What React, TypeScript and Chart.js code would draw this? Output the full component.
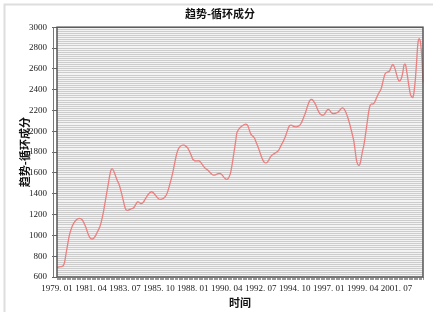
import React, { useEffect, useRef } from 'react';
import { Chart, registerables } from 'chart.js';

Chart.register(...registerables);

const chartTitle = '趋势-循环成分';
const xTitle = '时间';
const yTitle = '趋势-循环成分';

const startYear = 1979;
const tickLabels = ['1979. 01', '1981. 04', '1983. 07', '1985. 10', '1988. 01', '1990. 04', '1992. 07', '1994. 10', '1997. 01', '1999. 04', '2001. 07'];
const yMajorTicks = [600, 800, 1000, 1200, 1400, 1600, 1800, 2000, 2200, 2400, 2600, 2800, 3000];

const y1979 = [690, 695, 698, 700, 702, 710, 740, 810, 880, 950, 1010, 1050];
const y1980 = [1085, 1110, 1130, 1145, 1155, 1160, 1163, 1160, 1150, 1130, 1105, 1075];
const y1981 = [1040, 1005, 980, 968, 965, 970, 985, 1005, 1030, 1055, 1080, 1120];
const y1982 = [1170, 1230, 1300, 1370, 1440, 1510, 1580, 1630, 1640, 1620, 1590, 1555];
const y1983 = [1525, 1500, 1465, 1420, 1370, 1320, 1270, 1245, 1240, 1245, 1250, 1255];
const y1984 = [1258, 1265, 1285, 1305, 1322, 1320, 1310, 1306, 1310, 1325, 1345, 1365];
const y1985 = [1385, 1400, 1412, 1419, 1415, 1405, 1390, 1375, 1360, 1350, 1346, 1347];
const y1986 = [1352, 1360, 1371, 1390, 1420, 1460, 1505, 1550, 1600, 1660, 1720, 1775];
const y1987 = [1815, 1840, 1855, 1863, 1867, 1866, 1860, 1852, 1838, 1815, 1790, 1760];
const y1988 = [1730, 1720, 1715, 1715, 1717, 1715, 1705, 1690, 1672, 1655, 1643, 1635];
const y1989 = [1625, 1612, 1600, 1588, 1580, 1578, 1582, 1588, 1594, 1596, 1594, 1585];
const y1990 = [1570, 1555, 1542, 1538, 1545, 1565, 1600, 1665, 1740, 1820, 1900, 1985];
const y1991 = [2010, 2028, 2040, 2050, 2058, 2065, 2069, 2065, 2045, 2010, 1975, 1960];
const y1992 = [1950, 1935, 1905, 1875, 1845, 1810, 1775, 1742, 1715, 1700, 1697, 1700];
const y1993 = [1715, 1738, 1758, 1771, 1780, 1788, 1795, 1803, 1815, 1835, 1860, 1882];
const y1994 = [1905, 1932, 1965, 2000, 2035, 2055, 2060, 2055, 2048, 2044, 2043, 2045];
const y1995 = [2050, 2058, 2075, 2100, 2130, 2160, 2195, 2235, 2270, 2295, 2306, 2304];
const y1996 = [2290, 2270, 2245, 2215, 2190, 2170, 2160, 2155, 2157, 2170, 2190, 2208];
const y1997 = [2210, 2198, 2180, 2172, 2170, 2172, 2176, 2180, 2190, 2205, 2218, 2225];
const y1998 = [2218, 2200, 2172, 2140, 2100, 2058, 2010, 1960, 1905, 1820, 1730, 1685];
const y1999 = [1672, 1690, 1750, 1815, 1867, 1945, 2030, 2120, 2200, 2250, 2262, 2262];
const y2000 = [2268, 2290, 2320, 2347, 2370, 2390, 2420, 2470, 2520, 2555, 2565, 2570];
const y2001 = [2575, 2595, 2625, 2642, 2625, 2590, 2545, 2505, 2482, 2490, 2515, 2570];
const y2002 = [2640, 2645, 2580, 2500, 2420, 2355, 2330, 2325, 2390, 2510, 2680, 2850];
const y2003 = [2890, 2855, 2720, 2470];

const yearly = [y1979, y1980, y1981, y1982, y1983, y1984, y1985, y1986, y1987, y1988, y1989, y1990,
  y1991, y1992, y1993, y1994, y1995, y1996, y1997, y1998, y1999, y2000, y2001, y2002, y2003];

const values: number[] = ([] as number[]).concat(...yearly);
const categories: string[] = [];
yearly.forEach((arr, yi) => {
  arr.forEach((_, mi) => {
    categories.push(`${startYear + yi}. ${String(mi + 1).padStart(2, '0')}`);
  });
});

const FONT = "'Liberation Serif', 'Noto Sans CJK SC', serif";
const CJK = "'Noto Sans CJK SC', sans-serif";

const framePlugin = {
  id: 'framePlugin',
  beforeDraw(chart: any) {
    const { ctx, chartArea } = chart;
    ctx.save();
    ctx.fillStyle = '#ffffff';
    ctx.fillRect(0, 0, chart.width, chart.height);
    ctx.strokeStyle = '#dedede';
    ctx.lineWidth = 2;
    ctx.strokeRect(4.5, 4.5, chart.width + 20, chart.height + 20);
    ctx.fillStyle = '#f3f3f3';
    ctx.fillRect(chartArea.left, chartArea.top, chartArea.right - chartArea.left, chartArea.bottom - chartArea.top);
    ctx.restore();
  },
  afterDraw(chart: any) {
    const { ctx, chartArea } = chart;
    ctx.save();
    ctx.strokeStyle = '#555555';
    ctx.lineWidth = 1.5;
    ctx.strokeRect(chartArea.left, chartArea.top, chartArea.right - chartArea.left, chartArea.bottom - chartArea.top);
    ctx.strokeStyle = '#777777';
    ctx.lineWidth = 1;
    ctx.beginPath();
    ctx.moveTo(chartArea.left - 3.5, chartArea.top);
    ctx.lineTo(chartArea.left - 3.5, chartArea.bottom);
    ctx.stroke();
    ctx.restore();
  },
};

export default function App() {
  const ref = useRef<HTMLCanvasElement | null>(null);
  useEffect(() => {
    if (!ref.current) return;
    const chart = new Chart(ref.current, {
      type: 'line',
      data: {
        labels: categories,
        datasets: [
          {
            data: values,
            borderColor: '#eb8080',
            borderWidth: 1.3,
            pointRadius: 0,
            tension: 0.3,
            fill: false,
          },
        ],
      },
      options: {
        animation: false,
        responsive: false,
        devicePixelRatio: 1,
        layout: { padding: { left: 17, right: 10, top: 0, bottom: 0 } },
        plugins: {
          legend: { display: false },
          tooltip: { enabled: false },
          title: {
            display: true,
            text: chartTitle,
            color: '#111',
            font: { family: CJK, size: 11, weight: 'bold' },
            padding: { top: 7, bottom: 7 },
          },
        },
        scales: {
          x: {
            type: 'category',
            afterFit: (scale: any) => { scale.height = 35; },
            border: { display: false },
            grid: {
              drawOnChartArea: false,
              drawTicks: true,
              tickLength: 3,
              tickColor: '#999999',
              lineWidth: 1,
            },
            ticks: {
              autoSkip: false,
              maxRotation: 0,
              minRotation: 0,
              padding: 3,
              color: '#222',
              font: { family: FONT, size: 9 },
              callback: (_v: any, i: number) => (tickLabels.includes(categories[i]) ? categories[i] : ''),
            },
            title: {
              display: true,
              text: xTitle,
              color: '#111',
              font: { family: CJK, size: 11, weight: 'bold' },
              padding: 3,
            },
          },
          y: {
            min: 600,
            max: 3000,
            afterFit: (scale: any) => { scale.width = 40; },
            border: { display: false },
            grid: {
              color: '#cccccc',
              lineWidth: 1,
              tickLength: 5,
              tickColor: (c: any) => (yMajorTicks.includes(c.tick?.value) ? '#666666' : 'rgba(0,0,0,0)'),
            },
            ticks: {
              stepSize: 20,
              autoSkip: false,
              padding: 5,
              color: '#222',
              font: { family: FONT, size: 9 },
              callback: (v: any) => (yMajorTicks.includes(Number(v)) ? String(v) : ''),
            },
            title: {
              display: true,
              text: yTitle,
              color: '#111',
              font: { family: CJK, size: 11, weight: 'bold' },
              padding: 1,
            },
          },
        },
      },
      plugins: [framePlugin],
    } as any);
    return () => chart.destroy();
  }, []);
  return (
    <div style={{ position: 'absolute', left: 0, top: 0, width: 433, height: 312 }}>
      <canvas ref={ref} width={433} height={312} style={{ width: 433, height: 312 }} />
    </div>
  );
}
